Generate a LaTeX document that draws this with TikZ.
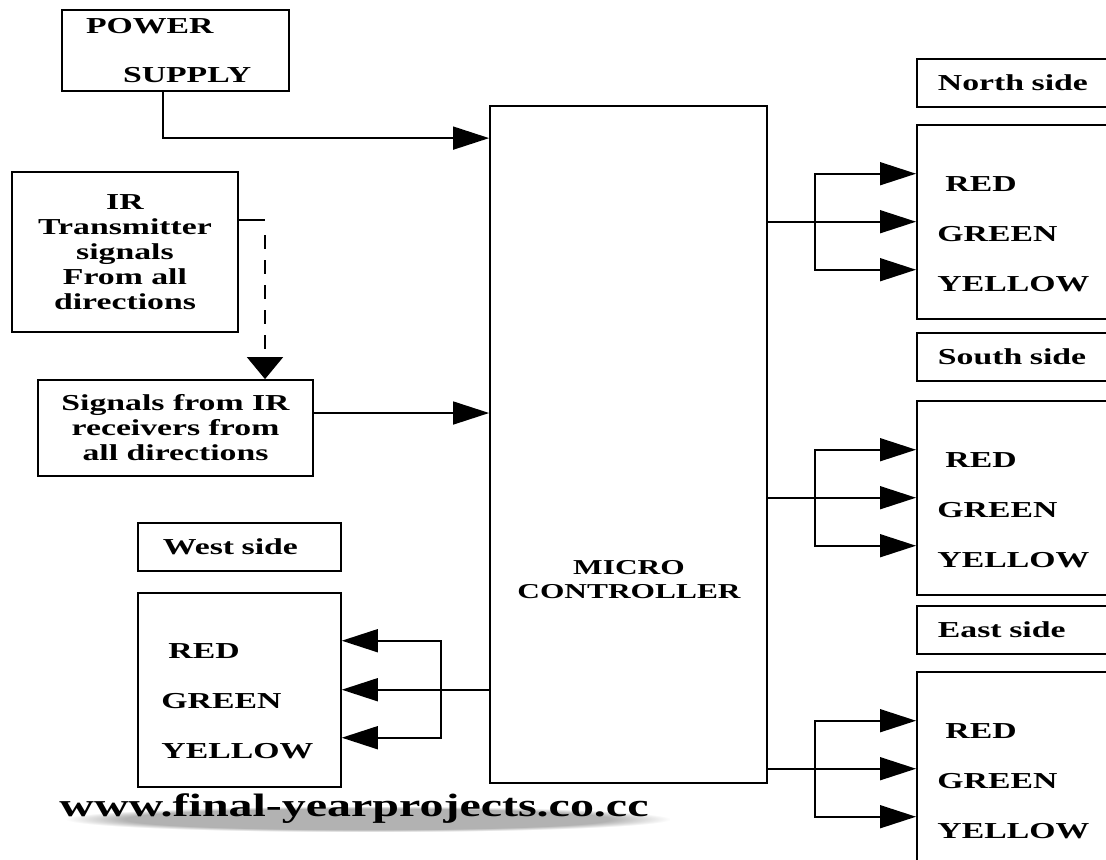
\documentclass[tikz,border=0pt]{standalone}
\usepackage{fontspec}
\setmainfont{Liberation Serif}[FakeStretch=1.48]
\usepackage{tikz}
\usetikzlibrary{positioning,arrows.meta,calc,fadings}

\begin{document}
\begin{tikzpicture}[
  x=0.5pt, y=-0.5pt,
  font=\fontsize{11.4}{12.5}\selectfont\bfseries,
  block/.style={draw, line width=0.9pt, align=center, inner sep=0pt},
  side/.style={draw, line width=0.9pt, anchor=north west, align=left,
               text width=99pt, inner xsep=10.5pt, minimum height=24pt},
  lamp/.style={draw, line width=0.9pt, minimum width=120pt,
               minimum height=97pt, inner sep=0pt},
  ryg/.style={anchor=west, align=left, inner sep=0pt,
              font=\fontsize{11.4}{25}\selectfont\bfseries},
  arr/.style={-{Triangle[length=18pt, width=11.5pt]}, line width=0.8pt},
  darr/.style={-{Triangle[length=11pt, width=18pt]}, line width=0.8pt,
               dash pattern=on 7pt off 5.5pt},
  wmark/.style={font=\fontsize{16.2}{18}\selectfont\bfseries}
]
\useasboundingbox (0,0) rectangle (1106,859);

% ---- inputs ----
\node[block, align=left, text width=89.5pt, inner xsep=12pt, minimum height=40.5pt] (psu)
  at (175.5,50.5) {POWER\\[12pt]\hspace*{18.5pt}SUPPLY};
\node[block, minimum width=113pt, minimum height=80pt] (irtx)
  at (125,252) {IR\\ Transmitter\\ signals\\ From all\\ directions};
\node[block, minimum width=137.5pt, minimum height=48pt] (sigrx)
  at (175.5,428) {Signals from IR\\ receivers from\\ all directions};

% ---- controller ----
\node[block, minimum width=138.5pt, minimum height=338.5pt] (mcu) at (628.5,444.5) {};
\node[align=center, font=\fontsize{10.6}{12}\selectfont\bfseries] (mcutxt)
  at (629,580) {MICRO\\ CONTROLLER};

% ---- signal boxes, right ----
\node[side] (sideN) at (916,58)  {North side};
\node[lamp, below=8pt of sideN] (lampN) {};
\node[side] (sideS) at (916,332) {South side};
\node[lamp, below=9pt of sideS] (lampS) {};
\node[side] (sideE) at (916,605) {East side};
\node[lamp, below=8pt of sideE] (lampE) {};
\foreach \s in {N,S,E}{
  \node[ryg] (txt\s) at ([xshift=10.5pt, yshift=-6.25pt]lamp\s.west)
    {\hspace*{4pt}RED\\ GREEN\\ YELLOW};
}

% ---- signal box, left ----
\node[side, text width=76.5pt, inner xsep=12.5pt] (sideW) at (137,522) {West side};
\node[lamp, minimum width=101.5pt, below=10pt of sideW] (lampW) {};
\node[ryg] (txtW) at ([xshift=12pt, yshift=-5.5pt]lampW.west)
  {\hspace*{3.5pt}RED\\ GREEN\\ YELLOW};

% ---- arrows ----
\draw[arr] ([xshift=-6.25pt]psu.south) |- ([yshift=-16.5pt]mcu.north west);
\draw[arr] ([yshift=7.5pt]sigrx.east) -- ([yshift=7.5pt]sigrx.east -| mcu.west);
\coordinate (irbend) at (265,220);
\draw[line width=0.8pt] (irtx.east |- irbend) -- (irbend);
\draw[darr] ([yshift=-7.5pt]irbend) -- (irbend |- sigrx.north);

\foreach \s in {N,S,E}{
  \draw[arr] (mcu.east |- lamp\s.west) -- (lamp\s.west);
  \path (mcu.east |- lamp\s.west) ++(23.5pt,0pt) coordinate (fork\s);
  \draw[arr] (fork\s) |- ([yshift=24pt]lamp\s.west);
  \draw[arr] (fork\s) |- ([yshift=-24pt]lamp\s.west);
}
\draw[arr] (mcu.west |- lampW.east) -- (lampW.east);
\path (lampW.east) ++(49.5pt,0pt) coordinate (forkW);
\draw[arr] (forkW) |- ([yshift=24.5pt]lampW.east);
\draw[arr] (forkW) |- ([yshift=-24pt]lampW.east);

% ---- watermark ----
\fill[black!30, path fading=circle with fuzzy edge 20 percent] (66,806) rectangle (670,832);
\node[wmark] (wm) at (354,809) {www.final-yearprojects.co.cc};
\end{tikzpicture}
\end{document}
